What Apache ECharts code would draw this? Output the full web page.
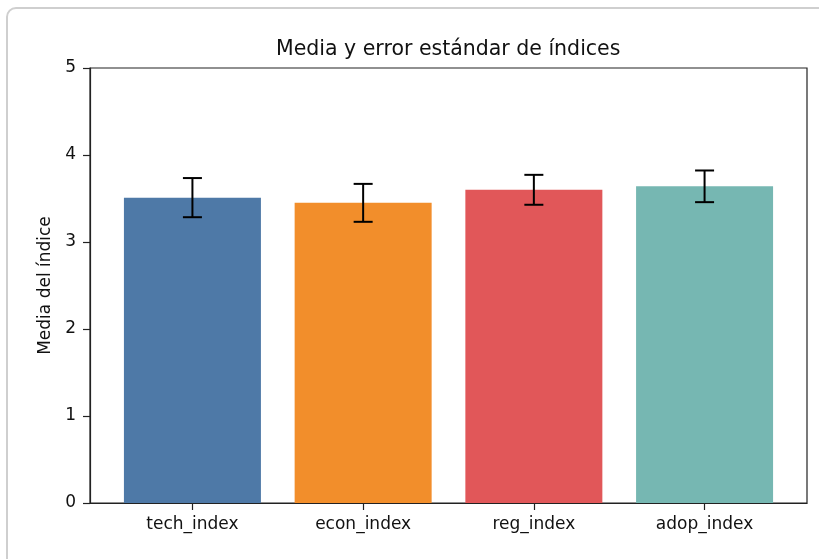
<!DOCTYPE html>
<html>
<head>
<meta charset="utf-8">
<script src="https://cdn.jsdelivr.net/npm/echarts@6/dist/echarts.min.js"></script>
<style>
  html, body { margin: 0; padding: 0; background: #fff; }
  #chart { width: 819px; height: 559px; }
</style>
</head>
<body>
<div id="chart"></div>
<script>
// datos: media y error estándar por índice
const categories = ['tech_index', 'econ_index', 'reg_index', 'adop_index']
const means = [3.51, 3.45, 3.60, 3.64]
const stdErr = [0.225, 0.218, 0.172, 0.182]
const barColors = ['#4E79A7', '#F28E2B', '#E15759', '#76B7B2']
const yTicks = [0, 1, 2, 3, 4, 5]

const chart = echarts.init(document.getElementById('chart'))
const font = 'DejaVu Sans'

const barData = means.map((m, i) => ({
  value: [i, m],
  itemStyle: { color: barColors[i] }
}))
const errData = means.map((m, i) => [i, m - stdErr[i], m + stdErr[i]])

const option = {
  animation: false,
  textStyle: { fontFamily: font },
  graphic: [
    {
      // marco gris de la captura
      type: 'rect',
      shape: { x: 7, y: 8, width: 900, height: 700, r: 9 },
      style: { fill: 'none', stroke: '#cfcfcf', lineWidth: 2 },
      z: -10
    }
  ],
  title: {
    text: 'Media y error estándar de índices',
    left: 271,
    top: 34,
    textStyle: { fontFamily: font, fontSize: 20.5, fontWeight: 'normal', color: '#111' }
  },
  grid: {
    left: 90,
    right: 12,
    top: 68,
    bottom: 56,
    show: true,
    borderColor: '#222',
    borderWidth: 1.2,
    backgroundColor: 'transparent'
  },
  xAxis: {
    type: 'value',
    min: -0.6,
    max: 3.6,
    splitLine: { show: false },
    axisLine: { show: true, onZero: false, lineStyle: { color: '#222', width: 1.2 } },
    axisTick: { show: true, customValues: [0, 1, 2, 3], length: 7, lineStyle: { color: '#222', width: 1.2 } },
    axisLabel: {
      customValues: [0, 1, 2, 3],
      formatter: (v) => categories[Math.round(v)],
      margin: 13,
      fontFamily: font,
      fontSize: 17,
      color: '#111'
    }
  },
  yAxis: {
    type: 'value',
    min: yTicks[0],
    max: yTicks[yTicks.length - 1],
    interval: 1,
    name: 'Media del índice',
    nameLocation: 'middle',
    nameGap: 33,
    nameTextStyle: { fontFamily: font, fontSize: 17, color: '#111' },
    splitLine: { show: false },
    axisLine: { show: true, onZero: false, lineStyle: { color: '#222', width: 1.2 } },
    axisTick: { show: true, length: 7, lineStyle: { color: '#222', width: 1.2 } },
    axisLabel: { margin: 14, fontFamily: font, fontSize: 17, color: '#111' }
  },
  series: [
    {
      name: 'media',
      type: 'bar',
      data: barData,
      barWidth: 137
    },
    {
      name: 'error',
      type: 'custom',
      data: errData,
      z: 5,
      renderItem(params, api) {
        const lo = api.coord([api.value(0), api.value(1)])
        const hi = api.coord([api.value(0), api.value(2)])
        const cap = 9.5
        const style = { stroke: '#000', lineWidth: 2 }
        return {
          type: 'group',
          children: [
            { type: 'line', shape: { x1: lo[0], y1: lo[1], x2: hi[0], y2: hi[1] }, style },
            { type: 'line', shape: { x1: lo[0] - cap, y1: lo[1], x2: lo[0] + cap, y2: lo[1] }, style },
            { type: 'line', shape: { x1: hi[0] - cap, y1: hi[1], x2: hi[0] + cap, y2: hi[1] }, style }
          ]
        }
      }
    }
  ]
}

chart.setOption(option)
</script>
</body>
</html>
